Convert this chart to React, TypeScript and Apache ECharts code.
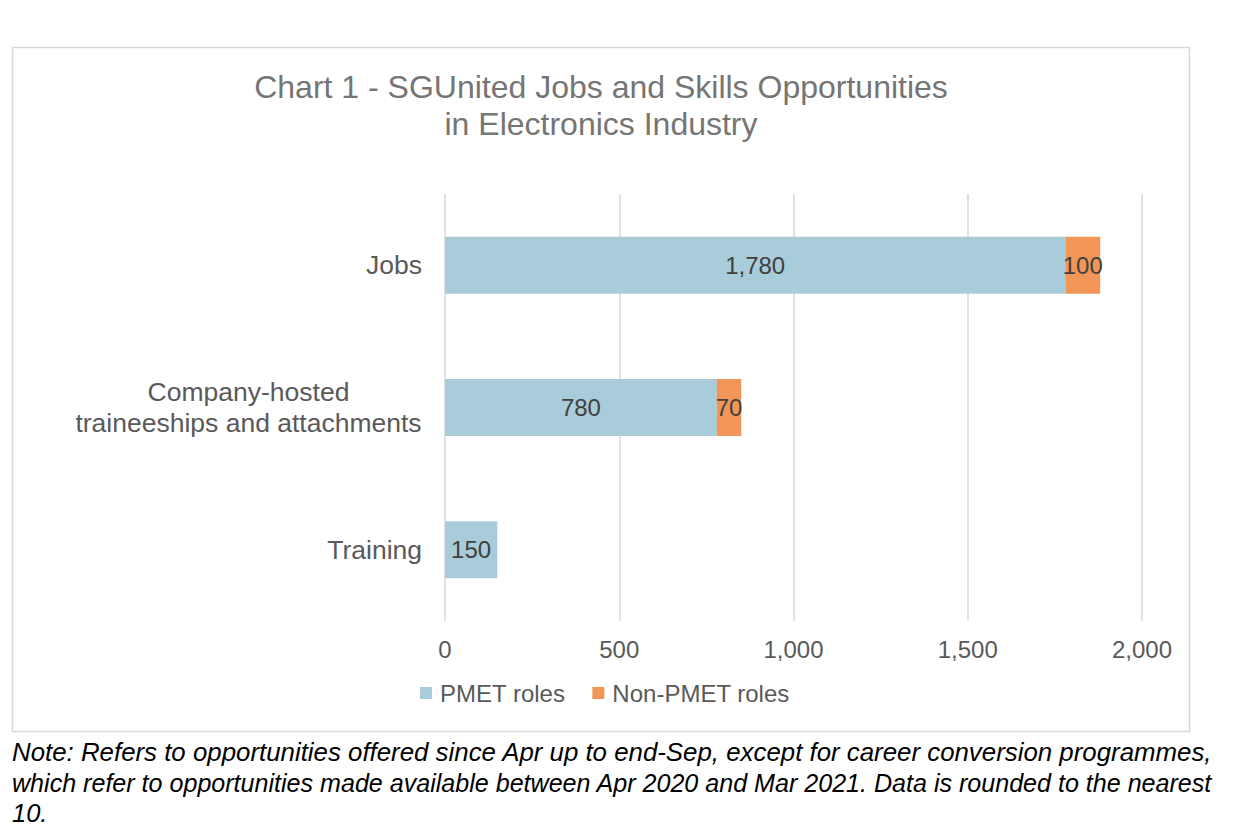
import React, { useEffect, useRef } from "react";
import * as echarts from "echarts";

const categories = ["Jobs", "Company-hosted\ntraineeships and attachments", "Training"];
const pmetValues = [1780, 780, 150];
const nonPmetValues: (number | null)[] = [100, 70, null];
const seriesNames = ["PMET roles", "Non-PMET roles"];
const xTicks = [0, 500, 1000, 1500, 2000];
const titleLines = ["Chart 1 - SGUnited Jobs and Skills Opportunities", "in Electronics Industry"];
const noteLines = [
  "Note: Refers to opportunities offered since Apr up to end-Sep, except for career conversion programmes,",
  "which refer to opportunities made available between Apr 2020 and Mar 2021. Data is rounded to the nearest",
  "10.",
];

const FONT = "'Liberation Sans', Arial, sans-serif";
const fmt = (v: number) => v.toLocaleString("en-US");

function measure(text: string, font: string): number {
  const c = document.createElement("canvas").getContext("2d");
  if (!c) return 0;
  c.font = font;
  return c.measureText(text).width;
}

export default function App() {
  const ref = useRef<HTMLDivElement>(null);
  useEffect(() => {
    if (!ref.current) return;
    const chart = echarts.init(ref.current, undefined, { renderer: "svg" });
    const label = {
      show: true,
      position: "inside",
      color: "#404040",
      fontSize: 24,
      fontFamily: FONT,
      formatter: (p: any) => (p.value == null ? "" : fmt(p.value)),
    };
    const noteSize = 25.5;
    const noteFont = `italic ${noteSize}px ${FONT}`;
    const noteTarget = 1201;
    const noteTexts = noteLines.map((t, i) => {
      const w = measure(t, noteFont);
      const fit = i < noteLines.length - 1 && w > 0 ? noteTarget / w : 1;
      return {
        type: "text",
        x: 12,
        y: 737 + i * 30.5,
        scaleX: fit,
        style: {
          text: t,
          textAlign: "left",
          fontSize: noteSize,
          lineHeight: 30.5,
          fontStyle: "italic",
          fill: "#000000",
          fontFamily: FONT,
        },
      };
    });
    chart.setOption({
      animation: false,
      backgroundColor: "#ffffff",
      textStyle: { fontFamily: FONT },
      graphic: [
        {
          type: "rect",
          shape: { x: 12.5, y: 47.5, width: 1177, height: 684 },
          style: { fill: "none", stroke: "#D9D9D9", lineWidth: 1.5 },
          silent: true,
        },
        {
          type: "text",
          x: 601,
          y: 68,
          style: {
            text: titleLines.join("\n"),
            textAlign: "center",
            fontSize: 32,
            lineHeight: 37,
            fill: "#757575",
            fontFamily: FONT,
          },
        },
        ...noteTexts,
      ],
      grid: { left: 445, right: 100, top: 194, bottom: 212, containLabel: false },
      legend: {
        data: seriesNames,
        left: 415,
        top: 676,
        icon: "rect",
        itemWidth: 12,
        itemHeight: 12,
        itemGap: 27,
        textStyle: { color: "#595959", fontSize: 24, fontFamily: FONT, padding: [0, 0, 0, 3] },
      },
      xAxis: {
        type: "value",
        min: 0,
        max: 2000,
        interval: 500,
        axisLine: { show: false },
        axisTick: { show: false },
        splitLine: { show: true, lineStyle: { color: "#D9D9D9", width: 1.5 } },
        axisLabel: {
          color: "#595959",
          fontSize: 24,
          fontFamily: FONT,
          margin: 16,
          formatter: (v: number) => (xTicks.includes(v) ? fmt(v) : ""),
        },
      },
      yAxis: {
        type: "category",
        data: categories,
        inverse: true,
        axisLine: { show: false },
        axisTick: { show: false },
        axisLabel: {
          color: "#595959",
          fontSize: 26.5,
          fontFamily: FONT,
          margin: 23,
          lineHeight: 31,
          formatter: (v: string) =>
            v.includes("\n") ? v.split("\n").map((s) => `{c|${s}}`).join("\n") : v,
          rich: {
            c: { width: 347, align: "center", fontSize: 26.5, lineHeight: 31, color: "#595959", fontFamily: FONT },
          },
        },
      },
      series: [
        {
          name: seriesNames[0],
          type: "bar",
          stack: "total",
          data: pmetValues,
          barWidth: 57,
          itemStyle: { color: "#A8CCD9" },
          label,
        },
        {
          name: seriesNames[1],
          type: "bar",
          stack: "total",
          data: nonPmetValues,
          barWidth: 57,
          itemStyle: { color: "#F29657" },
          label,
        },
      ],
    });
    return () => chart.dispose();
  }, []);
  return (
    <div
      ref={ref}
      style={{ position: "absolute", left: 0, top: 0, width: 1242, height: 833 }}
    />
  );
}
